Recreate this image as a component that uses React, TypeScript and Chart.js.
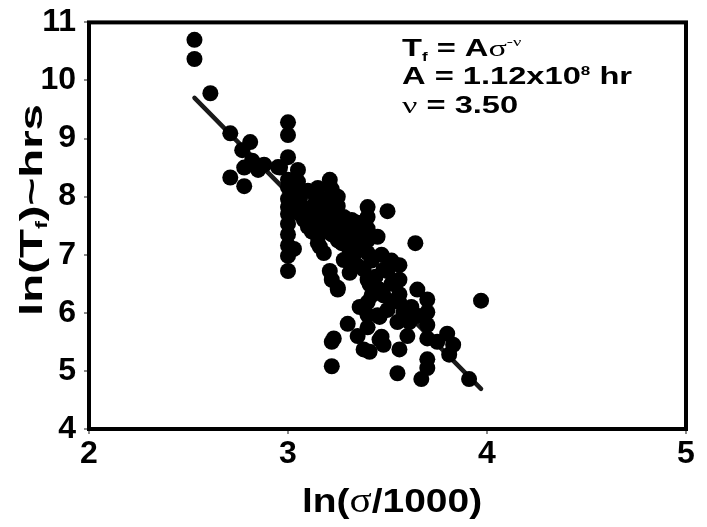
import React, { useEffect, useRef } from "react";
import { Chart, registerables } from "chart.js";

Chart.register(...registerables);

// ln(sigma/1000) values of the test points
const xValues: number[] = [
  2.53, 2.53, 2.61, 2.71, 2.81, 2.77, 2.78, 2.85, 2.71, 2.78,
  3.0, 3.0, 3.0, 2.95, 3.05, 3.0, 3.0, 3.0, 3.0, 3.0,
  3.0, 3.0, 3.0, 3.05, 3.05, 3.14, 3.21, 3.22, 3.21, 3.25,
  3.11, 3.1, 3.15, 3.16, 3.23, 3.3, 3.4, 3.4, 3.4, 3.4,
  3.4, 3.5, 3.45, 3.64, 3.21, 3.22, 3.25, 3.15, 3.18, 3.28,
  3.35, 3.4, 3.4, 3.4, 3.45, 3.48, 3.48, 3.56, 3.56, 3.56,
  3.56, 3.55, 3.61, 3.65, 3.7, 3.7, 3.7, 3.7, 3.8, 3.83,
  3.81, 3.97, 3.3, 3.22, 3.22, 3.38, 3.41, 3.47, 3.48, 3.56,
  3.55, 3.7, 3.7, 3.67, 3.91, 3.5, 3.41, 3.46, 3.46, 3.23,
  3.31, 3.25, 3.06, 3.09, 3.16, 3.19, 2.96, 3.31, 3.36, 3.12,
  3.2, 3.27, 3.33, 3.44, 3.52, 3.06, 3.13, 3.28, 3.35,
  3.05, 3.08, 3.12, 3.18, 3.22, 3.25, 3.3, 3.33, 3.27, 3.18,
  3.25, 3.32, 3.36, 3.3, 3.38, 3.42, 3.47, 3.52, 3.46, 3.52,
  3.5, 3.58, 3.62, 3.65, 3.6, 3.75, 3.1, 3.15, 3.25, 3.0,
  3.0, 3.03, 2.82, 2.88, 3.42, 3.36, 3.4, 3.35,
];

// ln(Tf) values (hours)
const yValues: number[] = [
  10.7, 10.37, 9.78, 9.09, 8.94, 8.8, 8.5, 8.46, 8.33, 8.18,
  9.28, 9.06, 8.68, 8.51, 8.46, 8.29, 8.16, 7.96, 7.7, 7.53,
  7.16, 6.98, 6.72, 8.26, 8.07, 7.99, 8.29, 8.13, 7.92, 7.84,
  7.65, 7.48, 7.31, 7.14, 7.53, 7.41, 7.82, 7.65, 7.45, 7.25,
  7.03, 7.75, 7.31, 7.2, 6.72, 6.57, 6.4, 7.2, 7.03, 6.91,
  6.81, 6.57, 6.18, 5.96, 5.96, 6.74, 6.3, 6.82, 6.57, 6.32,
  6.18, 5.84, 5.84, 6.4, 6.23, 6.01, 5.79, 5.56, 5.64, 5.45,
  5.28, 6.21, 5.81, 5.5, 5.08, 5.37, 5.33, 5.59, 5.45, 5.37,
  4.96, 5.2, 5.05, 4.86, 4.86, 6.72, 6.49, 5.93, 5.54, 5.56,
  6.69, 6.43, 7.96, 7.79, 7.53, 7.96, 8.5, 7.28, 7.11, 7.7,
  7.65, 7.2, 7.0, 6.62, 6.5, 7.7, 7.85, 7.65, 7.55,
  7.8, 7.6, 7.4, 7.45, 7.35, 7.25, 7.15, 7.3, 7.5, 7.75,
  7.7, 7.6, 7.4, 6.95, 6.75, 6.9, 7.0, 6.9, 6.4, 6.2,
  6.05, 6.0, 6.1, 5.95, 5.6, 5.5, 8.1, 8.15, 8.0, 7.82,
  7.35, 7.1, 8.62, 8.55, 6.3, 6.1, 5.75, 5.6,
];

// fitted power-law line end points
const fitX: number[] = [2.53, 3.97];
const fitY: number[] = [9.7, 4.69];

const xTicks: number[] = [2, 3, 4, 5];
const yTicks: number[] = [4, 5, 6, 7, 8, 9, 10, 11];

const SANS = '"Liberation Sans", Arial, Helvetica, sans-serif';
const SERIF = '"Liberation Serif", "Times New Roman", serif';

type Seg = { t: string; font: string; dy?: number };

function drawSegs(
  ctx: CanvasRenderingContext2D,
  segs: Seg[],
  x: number,
  y: number,
  sx: number,
  align: "left" | "center",
  rotate = 0
) {
  let w = 0;
  for (const s of segs) {
    ctx.font = s.font;
    w += ctx.measureText(s.t).width;
  }
  ctx.save();
  ctx.translate(x, y);
  if (rotate) ctx.rotate(rotate);
  ctx.scale(sx, 1);
  ctx.fillStyle = "#000";
  ctx.textAlign = "left";
  ctx.textBaseline = "alphabetic";
  let cx = align === "center" ? -w / 2 : 0;
  for (const s of segs) {
    ctx.font = s.font;
    ctx.fillText(s.t, cx, s.dy || 0);
    cx += ctx.measureText(s.t).width;
  }
  ctx.restore();
}

const framePlugin = {
  id: "frameAndText",
  afterDatasetsDraw(chart: any) {
    const ctx: CanvasRenderingContext2D = chart.ctx;
    const a = chart.chartArea;
    ctx.save();
    ctx.strokeStyle = "#000";
    ctx.lineWidth = 4;
    ctx.strokeRect(a.left, a.top, a.right - a.left, a.bottom - a.top);
    ctx.restore();
  },
  afterDraw(chart: any) {
    const ctx: CanvasRenderingContext2D = chart.ctx;
    // annotation
    const big = `bold 23px ${SANS}`;
    const small = `bold 12px ${SANS}`;
    const sym = `24px ${SERIF}`;
    const symSmall = `13px ${SERIF}`;
    drawSegs(
      ctx,
      [
        { t: "T", font: big },
        { t: "f", font: small, dy: 5 },
        { t: " = A", font: big },
        { t: "σ", font: sym },
        { t: "-ν", font: symSmall, dy: -10 },
      ],
      402,
      56,
      1.42,
      "left"
    );
    drawSegs(
      ctx,
      [
        { t: "A = 1.12x10", font: big },
        { t: "8", font: small, dy: -9 },
        { t: " hr", font: big },
      ],
      402,
      84,
      1.42,
      "left"
    );
    drawSegs(
      ctx,
      [
        { t: "ν", font: sym },
        { t: " = 3.50", font: big },
      ],
      402,
      113,
      1.42,
      "left"
    );
    // x axis title
    drawSegs(
      ctx,
      [
        { t: "ln(", font: `bold 33px ${SANS}` },
        { t: "σ", font: `35px ${SERIF}` },
        { t: "/1000)", font: `bold 33px ${SANS}` },
      ],
      392,
      512,
      1.18,
      "center"
    );
    // y axis title
    drawSegs(
      ctx,
      [
        { t: "ln(T", font: `bold 32px ${SANS}` },
        { t: "f", font: `bold 16px ${SANS}`, dy: 5 },
        { t: ")~hrs", font: `bold 32px ${SANS}` },
      ],
      42,
      210,
      1.48,
      "center",
      -Math.PI / 2
    );
  },
};

export default function App() {
  const ref = useRef<HTMLCanvasElement | null>(null);
  useEffect(() => {
    if (!ref.current) return;
    const points = xValues.map((x, i) => ({ x, y: yValues[i] }));
    const fit = fitX.map((x, i) => ({ x, y: fitY[i] }));
    const chart = new Chart(ref.current, {
      type: "scatter",
      data: {
        datasets: [
          {
            label: "data",
            data: points,
            backgroundColor: "#000",
            borderColor: "#000",
            borderWidth: 0,
            pointRadius: 8,
            pointHoverRadius: 8,
            order: 1,
          },
          {
            label: "fit",
            type: "line",
            data: fit,
            borderColor: "#1a1a1a",
            borderWidth: 4.5,
            borderCapStyle: "round",
            pointRadius: 0,
            showLine: true,
            fill: false,
            order: 2,
          } as any,
        ],
      },
      options: {
        animation: false,
        responsive: false,
        events: [],
        layout: { padding: { left: 0, top: 15, right: 21, bottom: 0 } },
        plugins: {
          legend: { display: false },
          tooltip: { enabled: false },
          title: { display: false },
        },
        scales: {
          x: {
            type: "linear",
            min: 2,
            max: 5,
            afterFit: (s: any) => {
              s.height = 98;
            },
            afterBuildTicks: (s: any) => {
              s.ticks = xTicks.map((v) => ({ value: v }));
            },
            border: { display: false },
            grid: {
              drawOnChartArea: false,
              drawTicks: true,
              tickLength: 5,
              color: "#8a8a8a",
              lineWidth: 2,
            },
            ticks: {
              color: "#000",
              padding: 4,
              font: { family: SANS, size: 32, weight: "bold", lineHeight: 1.0 },
            },
          },
          y: {
            type: "linear",
            min: 4,
            max: 11,
            afterFit: (s: any) => {
              s.width = 89;
            },
            afterBuildTicks: (s: any) => {
              s.ticks = yTicks.map((v) => ({ value: v }));
            },
            border: { display: false },
            grid: {
              drawOnChartArea: false,
              drawTicks: true,
              tickLength: 5,
              color: "#8a8a8a",
              lineWidth: 2,
            },
            ticks: {
              color: "#000",
              padding: 8,
              font: { family: SANS, size: 32, weight: "bold", lineHeight: 0.9 },
            },
          },
        },
      },
      plugins: [framePlugin],
    });
    return () => chart.destroy();
  }, []);
  return (
    <div style={{ position: "fixed", left: 0, top: 0, width: 707, height: 527, background: "#fff" }}>
      <canvas ref={ref} width={707} height={527} style={{ display: "block" }} />
    </div>
  );
}
